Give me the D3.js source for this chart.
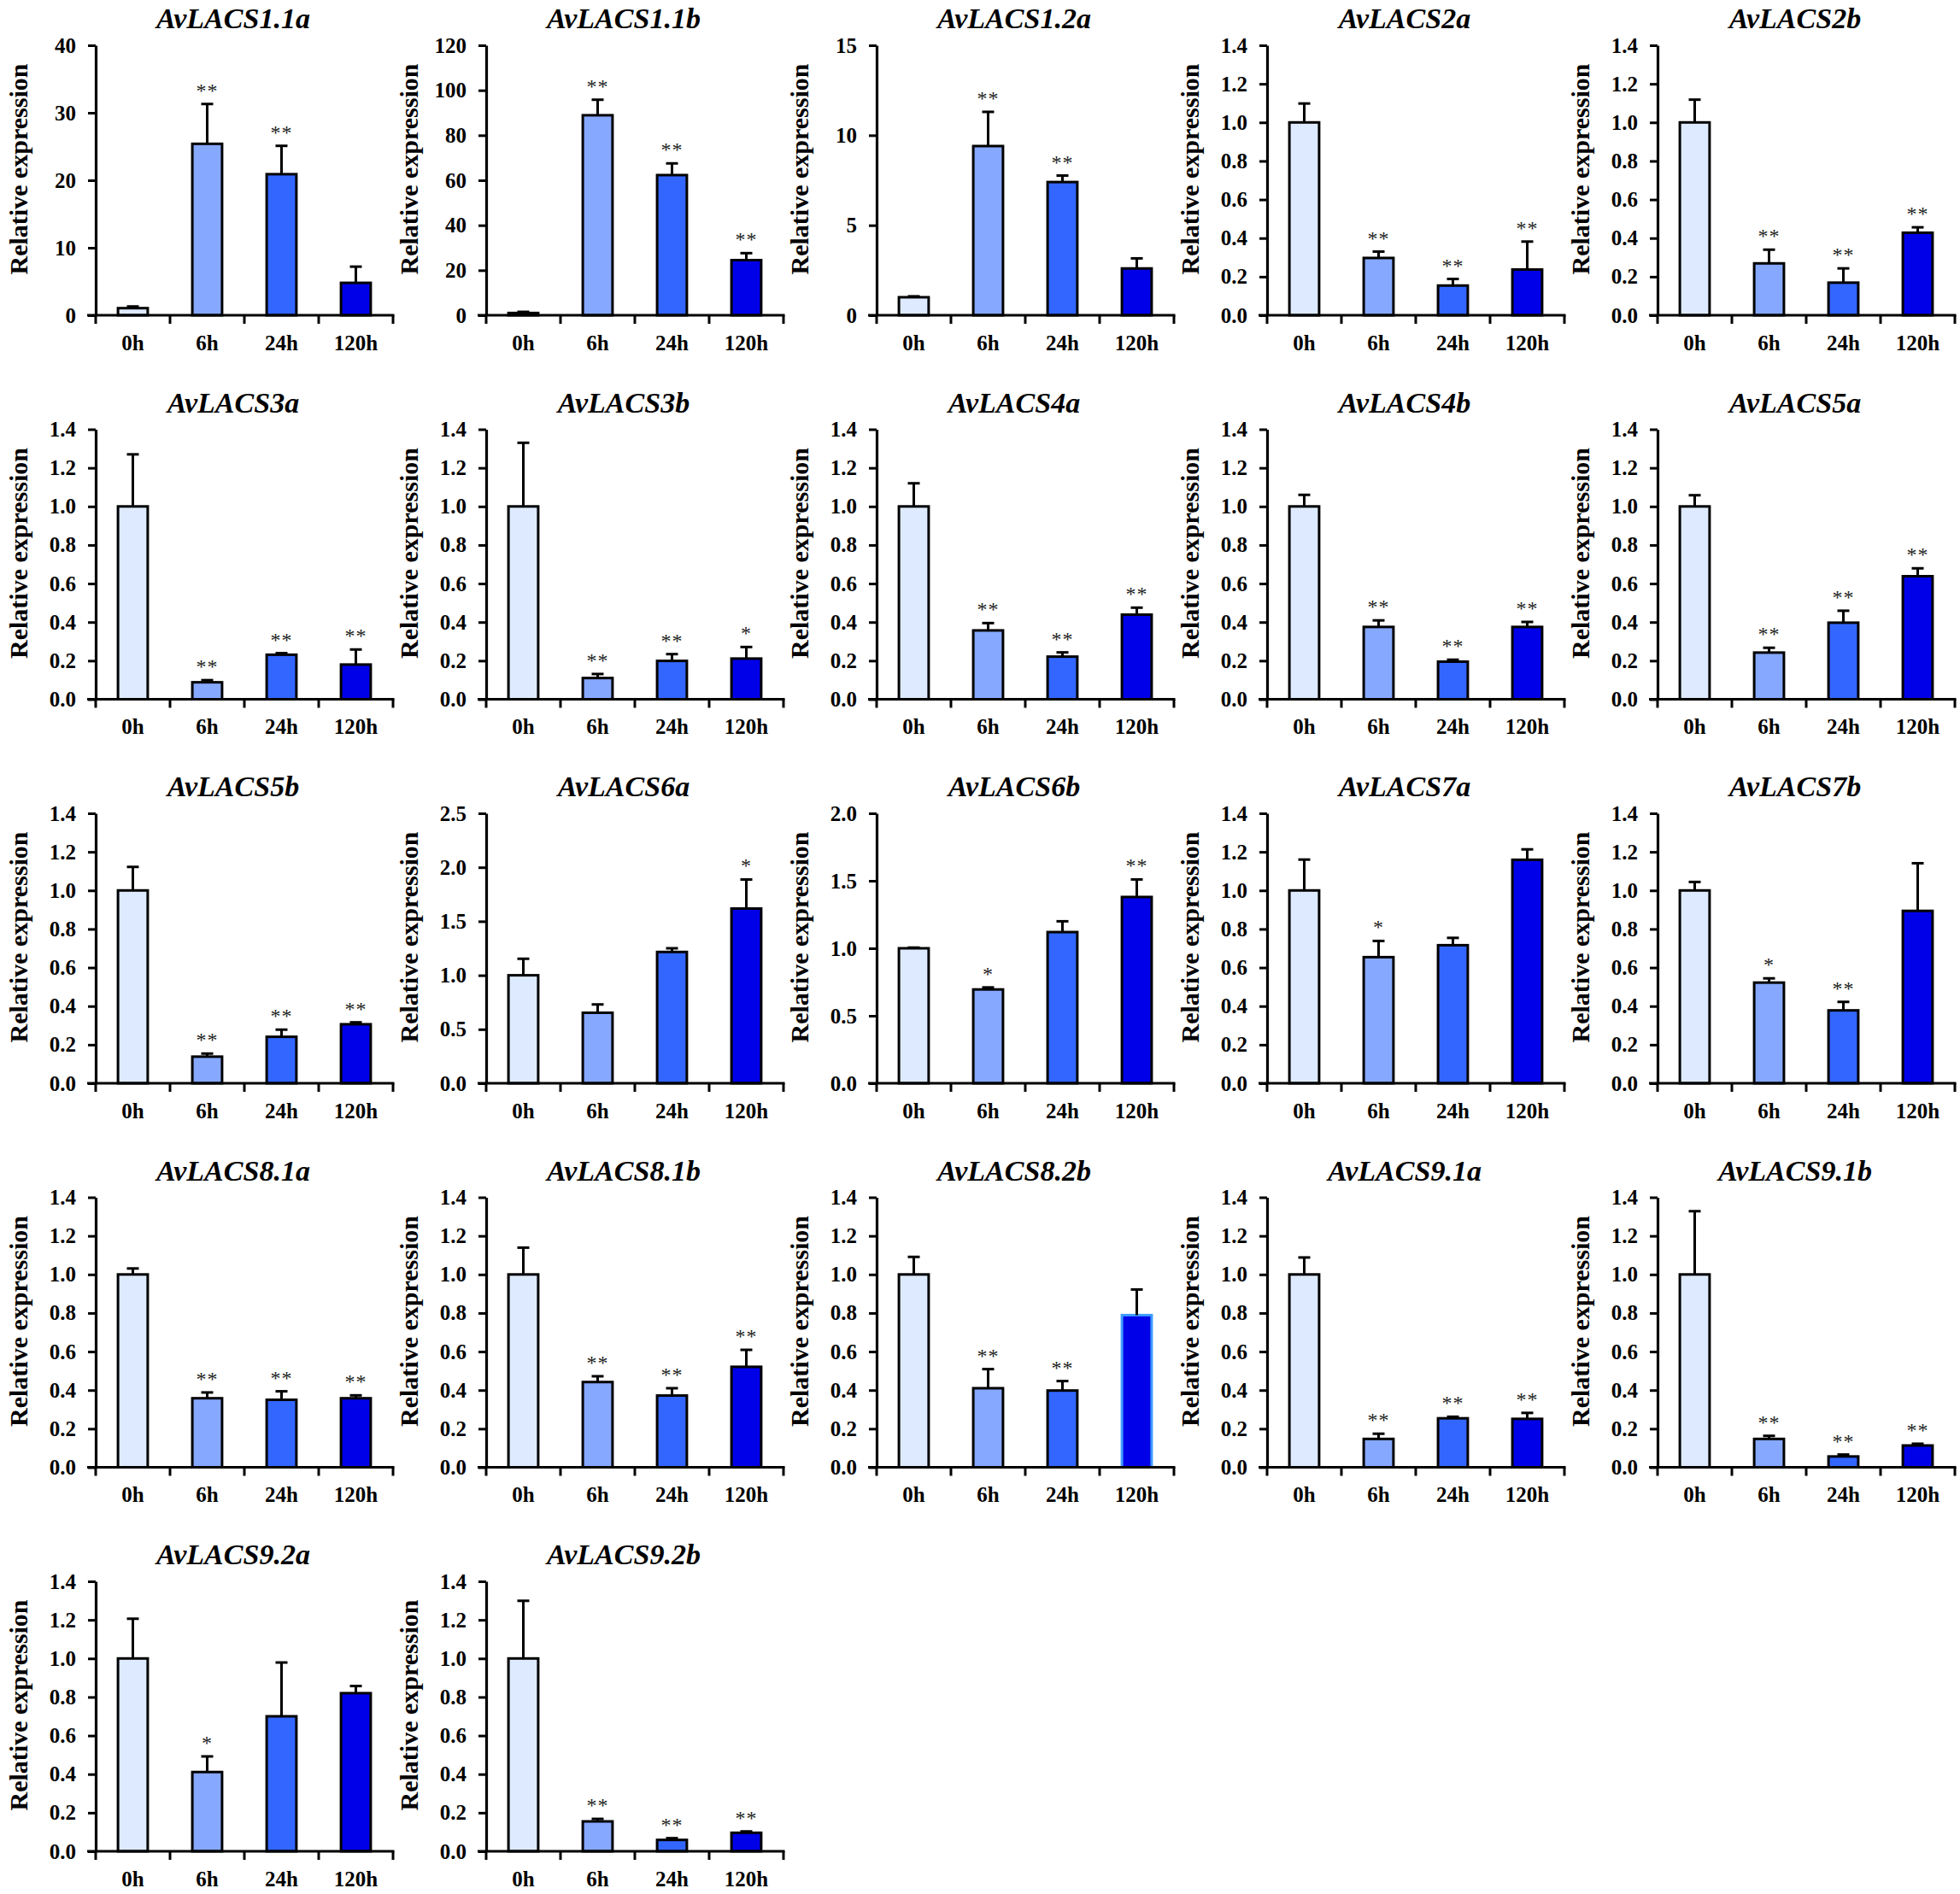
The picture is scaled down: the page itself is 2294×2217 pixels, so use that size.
<!DOCTYPE html>
<html><head><meta charset="utf-8">
<script src="https://cdn.jsdelivr.net/npm/d3@7/dist/d3.min.js"></script>
<style>
body{margin:0;background:#fff}
svg{display:block}
</style>
</head><body><svg id="chart"></svg>
<script>
// ---------- data ----------
const timepoints = ["0h", "6h", "24h", "120h"];
const genes = ["AvLACS1.1a","AvLACS1.1b","AvLACS1.2a","AvLACS2a","AvLACS2b",
  "AvLACS3a","AvLACS3b","AvLACS4a","AvLACS4b","AvLACS5a",
  "AvLACS5b","AvLACS6a","AvLACS6b","AvLACS7a","AvLACS7b",
  "AvLACS8.1a","AvLACS8.1b","AvLACS8.2b","AvLACS9.1a","AvLACS9.1b",
  "AvLACS9.2a","AvLACS9.2b"];
const yMax  = [40,120,15,1.4,1.4, 1.4,1.4,1.4,1.4,1.4, 1.4,2.5,2.0,1.4,1.4, 1.4,1.4,1.4,1.4,1.4, 1.4,1.4];
const yStep = [10,20,5,0.2,0.2, 0.2,0.2,0.2,0.2,0.2, 0.2,0.5,0.5,0.2,0.2, 0.2,0.2,0.2,0.2,0.2, 0.2,0.2];
const yDecimals = [0,0,0,1,1, 1,1,1,1,1, 1,1,1,1,1, 1,1,1,1,1, 1,1];
const means = [
  [1.05, 25.4, 20.9, 4.8],
  [1.0, 88.9, 62.3, 24.5],
  [1.0, 9.4, 7.4, 2.6],
  [1.0, 0.297, 0.154, 0.237],
  [1.0, 0.269, 0.169, 0.428],
  [1.0, 0.088, 0.231, 0.18],
  [1.0, 0.11, 0.199, 0.211],
  [1.0, 0.357, 0.221, 0.439],
  [1.0, 0.375, 0.195, 0.375],
  [1.0, 0.242, 0.397, 0.638],
  [1.0, 0.138, 0.241, 0.306],
  [1.0, 0.653, 1.216, 1.618],
  [1.0, 0.695, 1.12, 1.38],
  [1.0, 0.654, 0.716, 1.159],
  [1.0, 0.522, 0.378, 0.894],
  [1.0, 0.358, 0.35, 0.358],
  [1.0, 0.442, 0.372, 0.521],
  [1.0, 0.41, 0.398, 0.789],
  [1.0, 0.147, 0.254, 0.251],
  [1.0, 0.147, 0.056, 0.113],
  [1.0, 0.411, 0.70, 0.82],
  [1.0, 0.155, 0.059, 0.096]
];
const errors = [
  [0.25, 5.9, 4.2, 2.4],
  [0.5, 6.9, 5.2, 3.1],
  [0.05, 1.9, 0.36, 0.56],
  [0.098, 0.033, 0.034, 0.145],
  [0.118, 0.071, 0.074, 0.028],
  [0.27, 0.011, 0.008, 0.078],
  [0.33, 0.021, 0.035, 0.06],
  [0.12, 0.038, 0.022, 0.036],
  [0.06, 0.034, 0.01, 0.026],
  [0.058, 0.025, 0.062, 0.041],
  [0.122, 0.016, 0.037, 0.01],
  [0.153, 0.077, 0.034, 0.269],
  [0.005, 0.015, 0.08, 0.13],
  [0.16, 0.084, 0.038, 0.054],
  [0.044, 0.022, 0.044, 0.247],
  [0.031, 0.03, 0.044, 0.015],
  [0.139, 0.03, 0.038, 0.088],
  [0.091, 0.099, 0.049, 0.133],
  [0.088, 0.027, 0.008, 0.031],
  [0.328, 0.016, 0.01, 0.009],
  [0.206, 0.081, 0.279, 0.037],
  [0.299, 0.013, 0.009, 0.007]
];
const significance = [
  ["","**","**",""],
  ["","**","**","**"],
  ["","**","**",""],
  ["","**","**","**"],
  ["","**","**","**"],
  ["","**","**","**"],
  ["","**","**","*"],
  ["","**","**","**"],
  ["","**","**","**"],
  ["","**","**","**"],
  ["","**","**","**"],
  ["","","","*"],
  ["","*","","**"],
  ["","*","",""],
  ["","*","**",""],
  ["","**","**","**"],
  ["","**","**","**"],
  ["","**","**",""],
  ["","**","**","**"],
  ["","**","**","**"],
  ["","*","",""],
  ["","**","**","**"]
];
const yLabel = "Relative expression";

// ---------- style / layout ----------
const W = 2294, H = 2217;
const colors = ["#DDEAFF", "#86A8FF", "#3366FF", "#0000E8"];
const outlineOverride = {"AvLACS8.2b|120h": "#3D9BFF"};
const ncol = 5;
const plotW = 348, plotH = 316;
const colPitch = 457, rowPitch = 449.5;
const left0 = 112, top0 = 53;
const serif = "'Liberation Serif','Times New Roman',Times,serif";

const svg = d3.select("#chart").attr("width", W).attr("height", H)
  .attr("viewBox", `0 0 ${W} ${H}`);
svg.append("rect").attr("width", W).attr("height", H).attr("fill", "#fff");

genes.forEach((gene, i) => {
  const col = i % ncol, row = Math.floor(i / ncol);
  const g = svg.append("g")
    .attr("transform", `translate(${left0 + col * colPitch},${top0 + row * rowPitch})`);

  const x = d3.scaleBand().domain(timepoints).range([0, plotW]).padding(0);
  const y = d3.scaleLinear().domain([0, yMax[i]]).range([plotH, 0]);
  const bw = x.bandwidth() * 0.4;
  const tickVals = d3.range(0, yMax[i] + yStep[i] / 2, yStep[i]);
  const fmt = d3.format(`.${yDecimals[i]}f`);

  // title
  g.append("text")
    .attr("x", plotW / 2 - 13).attr("y", -20)
    .attr("text-anchor", "middle")
    .attr("font-family", serif).attr("font-weight", "bold").attr("font-style", "italic")
    .attr("font-size", 34).attr("fill", "#000")
    .text(gene);

  // y label
  g.append("text")
    .attr("transform", `translate(-91,${145}) rotate(-90)`)
    .attr("text-anchor", "middle").attr("dominant-baseline", "central")
    .attr("font-family", serif).attr("font-weight", "bold")
    .attr("font-size", 30).attr("fill", "#000")
    .text(yLabel);

  // bars
  const data = timepoints.map((t, k) => ({t, v: means[i][k], e: errors[i][k], s: significance[i][k], k}));
  g.selectAll("rect.bar").data(data).join("rect")
    .attr("class", "bar")
    .attr("x", d => x(d.t) + (x.bandwidth() - bw) / 2)
    .attr("width", bw)
    .attr("y", d => y(d.v))
    .attr("height", d => plotH - y(d.v))
    .attr("fill", d => colors[d.k])
    .attr("stroke", d => outlineOverride[gene + "|" + d.t] || "#000")
    .attr("stroke-width", 3);

  // error bars (upper only)
  const eb = g.selectAll("g.err").data(data).join("g").attr("class", "err");
  eb.append("line")
    .attr("x1", d => x(d.t) + x.bandwidth() / 2).attr("x2", d => x(d.t) + x.bandwidth() / 2)
    .attr("y1", d => y(d.v)).attr("y2", d => y(d.v + d.e))
    .attr("stroke", "#000").attr("stroke-width", 3);
  eb.append("line")
    .attr("x1", d => x(d.t) + x.bandwidth() / 2 - 7).attr("x2", d => x(d.t) + x.bandwidth() / 2 + 7)
    .attr("y1", d => y(d.v + d.e)).attr("y2", d => y(d.v + d.e))
    .attr("stroke", "#000").attr("stroke-width", 3);

  // significance
  g.selectAll("text.sig").data(data.filter(d => d.s)).join("text")
    .attr("class", "sig")
    .attr("x", d => x(d.t) + x.bandwidth() / 2)
    .attr("y", d => y(d.v + d.e) - 8)
    .attr("text-anchor", "middle")
    .attr("font-family", serif).attr("font-size", 24).attr("letter-spacing", 1)
    .attr("fill", "#222")
    .text(d => d.s);

  // y axis
  const yAxis = d3.axisLeft(y).tickValues(tickVals).tickFormat(fmt).tickSize(9).tickPadding(14).tickSizeOuter(0);
  const ya = g.append("g").call(yAxis);
  ya.select(".domain").attr("stroke-width", 3.2).attr("stroke", "#000");
  ya.selectAll(".tick line").attr("stroke-width", 3).attr("stroke", "#000");
  ya.selectAll(".tick text").attr("font-family", serif).attr("font-weight", "bold")
    .attr("font-size", 25).attr("fill", "#000");

  // x axis: labels at band centres, ticks at band boundaries
  const xAxis = d3.axisBottom(x).tickSize(0).tickPadding(23).tickSizeOuter(0);
  const xa = g.append("g").attr("transform", `translate(0,${plotH})`).call(xAxis);
  xa.select(".domain").attr("stroke-width", 3.2).attr("stroke", "#000")
    .attr("d", `M-10,0H${plotW + 1.5}`);
  xa.selectAll(".tick text").attr("font-family", serif).attr("font-weight", "bold")
    .attr("font-size", 25).attr("fill", "#000");
  const bounds = timepoints.map(t => x(t)).concat([x.range()[1]]);
  xa.selectAll("line.bound").data(bounds).join("line").attr("class", "bound")
    .attr("x1", d => d).attr("x2", d => d).attr("y1", 0).attr("y2", 10)
    .attr("stroke", "#000").attr("stroke-width", 3);
});
</script>
</body></html>
